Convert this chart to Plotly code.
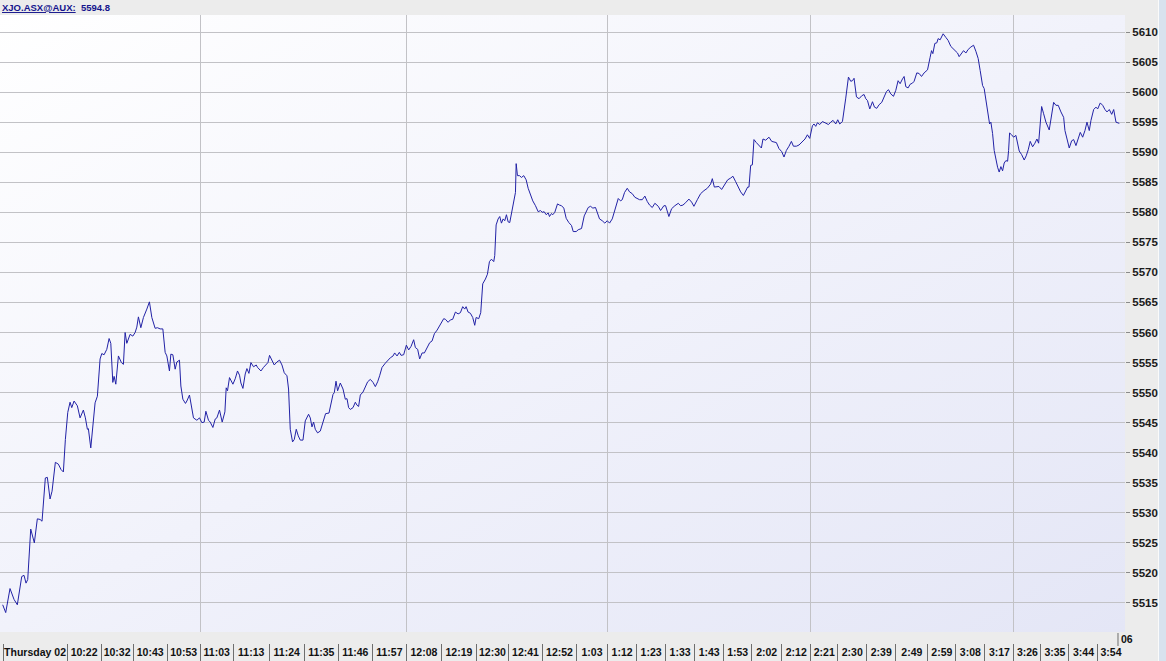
import plotly.graph_objects as go
import urllib.parse

# ---------------- data ----------------
symbol = "XJO.ASX@AUX:"
last_price = "5594.8"

# sample position along the session (index axis) and index level
bar_pos = [
    2.7, 5.7, 10, 14, 17.3, 21.7, 24, 26, 27.7, 30.7, 34.3, 37.3, 40, 42, 45.3, 47.3, 50, 52, 55.3, 58.3,
    61, 63.3, 65.3, 67.7, 70, 71.7, 74, 77.3, 80, 83.3, 85.3, 87.3, 88.3, 90.7, 95, 97.3, 100, 101.7, 104, 106.7,
    109, 110.7, 112.7, 114, 115.7, 118.3, 121.3, 123.3, 125, 126.7, 130, 132.7, 135, 136.7, 138.3, 140.7, 143.3, 145, 146.7, 149.3,
    151.7, 155, 157.3, 160, 162.7, 165, 166.7, 169.3, 170.7, 172.7, 175, 176.7, 179.3, 180.7, 182.7, 185.3, 186.7, 189.3, 191.7, 193.3,
    196.7, 199.3, 201.7, 204, 205.7, 208.3, 210, 212.7, 215, 216.7, 219.3, 222, 224.7, 226, 227.3, 229.3, 232.7, 235, 237.3, 239.3,
    240.7, 242.7, 245, 246.7, 248.7, 250.7, 253.3, 256, 257.3, 260.7, 263.3, 266, 267.7, 269.3, 271.7, 274, 276.7, 279.3, 281.7, 284,
    286.7, 288.3, 290, 292.3, 294, 296, 298, 300, 302.7, 305, 308.3, 310, 311.7, 313.3, 315, 317.3, 320, 323.3, 325.3, 328.7,
    330.7, 332.7, 334, 335.7, 337.3, 340, 342.7, 345, 346.7, 348.3, 350, 352.7, 355, 356.7, 358.3, 360, 362.7, 365, 367.3, 370,
    372.7, 375, 377.3, 379.3, 381.7, 385, 387.3, 390, 392.7, 394.3, 396.7, 399, 400.7, 403.3, 406, 408.3, 410.7, 413.3, 415, 417.3,
    419.3, 421.7, 424, 426.7, 429.3, 431.7, 434, 436.7, 440, 443.3, 445, 447.7, 450, 452.3, 455, 457.7, 460, 462.3, 464.3, 465.7,
    467.7, 470, 472.3, 474.3, 475.7, 478.3, 480.3, 482.3, 485, 487, 489, 491, 493.3, 494.3, 495.7, 497.7, 499.3, 501, 502.7, 504.3,
    506, 507.7, 509.3, 511, 513.3, 515, 515.7, 517, 519, 521, 523.3, 525.7, 527.7, 530, 532.3, 535, 537.7, 540, 541.7, 543.7,
    545.7, 547.7, 549, 551, 552.3, 554.3, 557, 559, 561, 563.3, 565.7, 568.3, 571, 572.7, 575.7, 577.7, 581, 583.7, 585.7, 587.7,
    590, 592.3, 595, 596.7, 599, 601.7, 604.3, 606.7, 609, 611.7, 615, 617.7, 620, 621.7, 624, 626.7, 629, 631.7, 634.3, 636.7,
    639, 641.7, 644.3, 646.7, 649, 651.7, 654.3, 657.7, 660, 663.3, 665, 668.3, 671, 674.3, 677.7, 680, 682.3, 685, 688.3, 691,
    693.3, 696.7, 700, 703.3, 706.7, 710, 711.7, 713.7, 716.7, 718.3, 721, 724.3, 727, 730, 732.3, 735, 737.7, 740, 742.7, 745,
    747, 748.3, 750, 751.7, 753.3, 755.7, 758.3, 760.7, 762.3, 765, 768.3, 771, 773.3, 775.7, 778.3, 781, 783.3, 785.7, 788.3, 790.7,
    792.7, 795.7, 798.3, 801.7, 804.3, 806.7, 809, 811.7, 813.3, 815, 816.7, 819, 821.7, 824.3, 827.7, 830, 832.3, 835, 837, 839,
    841.7, 845, 847.7, 850, 851.7, 853.3, 855.7, 858.3, 861, 863.3, 865, 866.7, 869, 871.7, 873.7, 876, 878.3, 881, 883.3, 885.7,
    887.7, 890, 892.7, 895, 897.3, 899.3, 901.7, 903.3, 905, 907.3, 909.3, 911.7, 913.3, 916, 918.3, 920.7, 923.3, 926.7, 929.3, 930.7,
    932, 934, 936, 937.3, 939.3, 940.7, 942.3, 945, 947.3, 950, 952.7, 955, 956.7, 958.3, 960.7, 962.7, 965, 967.3, 970, 972.7,
    975, 977.3, 979.3, 981.7, 983.3, 985, 986.7, 988.7, 990, 991.7, 993.3, 995, 996.7, 998.3, 1000, 1001.7, 1003.3, 1005, 1006.7, 1007.7,
    1008.7, 1010.7, 1012.7, 1015, 1016.7, 1018.3, 1020.7, 1023.3, 1025.3, 1027.3, 1029.3, 1031.7, 1034, 1036, 1037.7, 1039.3, 1040.7, 1042.7, 1045, 1048.3,
    1050.7, 1052.7, 1055, 1057.3, 1060, 1062.7, 1064, 1066, 1068.3, 1070.7, 1072.7, 1075, 1077.3, 1079.3, 1081.7, 1084, 1086, 1088.3, 1090, 1092.7,
    1095, 1096.7, 1099.3, 1101.7, 1104, 1106, 1108.3, 1110.7, 1112.7, 1115, 1118.3,
]
price = [
    5514.7, 5513.4, 5517.4, 5515.6, 5514.7, 5519.4, 5519.6, 5518.3, 5518.9, 5527.3, 5525.0, 5529.0, 5528.9, 5528.6, 5535.8, 5535.9, 5532.3, 5533.6, 5538.4, 5538.1,
    5537.2, 5536.8, 5542.2, 5546.7, 5548.4, 5547.5, 5548.6, 5547.8, 5545.8, 5547.1, 5545.8, 5543.9, 5544.0, 5540.8, 5548.3, 5549.4, 5555.6, 5556.5, 5556.3, 5557.2,
    5559.0, 5558.2, 5551.7, 5552.7, 5551.4, 5556.1, 5555.0, 5554.7, 5560.0, 5558.2, 5559.7, 5559.4, 5560.0, 5560.9, 5562.6, 5560.8, 5562.5, 5563.4, 5563.9, 5565.1,
    5562.5, 5560.7, 5560.8, 5560.6, 5560.6, 5556.7, 5556.1, 5553.6, 5556.4, 5556.3, 5553.9, 5555.1, 5555.4, 5551.1, 5548.9, 5548.2, 5548.6, 5549.6, 5547.0, 5545.8,
    5545.4, 5545.8, 5545.0, 5545.1, 5546.9, 5545.4, 5545.1, 5544.2, 5545.6, 5545.8, 5547.1, 5545.1, 5546.8, 5550.8, 5550.3, 5552.5, 5551.4, 5552.3, 5553.6, 5552.9,
    5551.6, 5550.7, 5553.1, 5554.0, 5553.2, 5555.0, 5554.3, 5554.6, 5554.2, 5553.6, 5554.2, 5554.8, 5555.0, 5556.2, 5555.3, 5554.6, 5555.1, 5555.4, 5554.6, 5553.3,
    5552.8, 5550.6, 5543.9, 5541.8, 5542.2, 5543.9, 5542.8, 5542.1, 5542.1, 5545.3, 5546.4, 5545.8, 5544.3, 5545.1, 5543.9, 5543.3, 5543.6, 5545.6, 5546.5, 5546.6,
    5548.3, 5549.7, 5550.0, 5551.9, 5550.3, 5551.6, 5550.6, 5548.9, 5549.0, 5547.5, 5547.2, 5547.5, 5548.4, 5547.9, 5547.7, 5549.6, 5550.1, 5551.1, 5551.8, 5552.2,
    5551.7, 5551.0, 5551.8, 5552.8, 5554.2, 5554.9, 5555.4, 5555.8, 5556.1, 5556.6, 5556.1, 5556.7, 5556.2, 5556.3, 5557.9, 5557.1, 5557.7, 5558.8, 5557.5, 5557.2,
    5555.6, 5556.6, 5556.6, 5557.5, 5558.3, 5558.6, 5559.8, 5560.4, 5561.4, 5562.3, 5562.2, 5561.7, 5562.1, 5562.2, 5563.4, 5563.1, 5563.3, 5564.3, 5563.9, 5564.3,
    5563.4, 5563.2, 5562.5, 5561.2, 5562.5, 5562.3, 5563.3, 5568.1, 5568.9, 5569.7, 5571.8, 5572.2, 5571.8, 5572.8, 5577.9, 5578.9, 5579.3, 5578.2, 5578.9, 5578.6,
    5579.6, 5578.4, 5578.3, 5580.0, 5581.6, 5583.3, 5588.1, 5586.1, 5586.1, 5585.8, 5586.1, 5585.4, 5584.0, 5582.8, 5581.9, 5581.1, 5580.1, 5580.3, 5580.0, 5580.1,
    5579.6, 5579.9, 5579.3, 5579.8, 5579.6, 5580.0, 5581.4, 5581.2, 5581.1, 5580.7, 5579.0, 5578.3, 5577.8, 5576.8, 5576.8, 5577.1, 5577.3, 5579.4, 5580.0, 5580.8,
    5581.0, 5580.7, 5580.8, 5580.1, 5578.9, 5578.6, 5578.2, 5578.6, 5578.2, 5578.9, 5580.7, 5582.3, 5581.9, 5582.1, 5583.3, 5584.0, 5583.4, 5583.1, 5582.5, 5582.3,
    5582.1, 5582.1, 5582.7, 5581.8, 5581.2, 5580.8, 5581.5, 5581.0, 5580.3, 5581.1, 5581.1, 5579.3, 5580.6, 5581.1, 5581.5, 5581.1, 5581.2, 5581.6, 5582.2, 5581.7,
    5581.0, 5582.1, 5583.1, 5583.6, 5584.0, 5584.7, 5585.6, 5584.2, 5584.2, 5584.3, 5583.8, 5584.7, 5585.4, 5585.7, 5586.0, 5585.1, 5584.2, 5583.4, 5582.8, 5583.6,
    5584.2, 5584.2, 5587.8, 5587.9, 5592.1, 5591.6, 5591.1, 5590.7, 5592.2, 5592.0, 5592.5, 5591.8, 5591.7, 5591.6, 5590.6, 5590.1, 5589.2, 5590.3, 5591.0, 5591.8,
    5591.0, 5591.0, 5591.2, 5591.7, 5592.2, 5592.9, 5592.3, 5594.4, 5594.7, 5594.3, 5594.9, 5594.6, 5595.1, 5594.9, 5594.6, 5595.0, 5595.3, 5594.7, 5595.4, 5594.7,
    5595.1, 5599.0, 5602.5, 5601.8, 5601.9, 5602.3, 5599.2, 5598.9, 5599.4, 5599.6, 5598.9, 5598.6, 5597.2, 5598.4, 5597.5, 5597.3, 5597.9, 5598.3, 5599.3, 5600.1,
    5600.4, 5599.7, 5599.3, 5600.3, 5601.9, 5601.4, 5602.2, 5602.6, 5600.9, 5600.7, 5601.3, 5601.5, 5601.8, 5603.2, 5603.1, 5602.6, 5603.2, 5603.7, 5605.8, 5606.9,
    5606.4, 5608.1, 5608.2, 5608.9, 5608.7, 5609.2, 5609.7, 5609.1, 5608.6, 5607.6, 5607.1, 5606.8, 5606.5, 5605.9, 5606.4, 5606.9, 5606.5, 5607.1, 5607.5, 5607.8,
    5606.8, 5605.6, 5603.6, 5601.1, 5600.6, 5598.6, 5597.2, 5594.7, 5595.0, 5593.1, 5590.3, 5588.5, 5587.5, 5586.7, 5587.6, 5586.9, 5588.2, 5588.6, 5588.5, 5590.3,
    5593.2, 5592.9, 5592.5, 5592.8, 5591.5, 5590.2, 5589.6, 5588.7, 5589.4, 5590.4, 5591.8, 5590.9, 5591.5, 5592.2, 5591.5, 5595.3, 5597.6, 5596.4, 5595.0, 5593.7,
    5595.9, 5598.3, 5597.8, 5597.8, 5596.7, 5595.8, 5593.6, 5592.2, 5590.7, 5591.9, 5592.1, 5591.1, 5592.5, 5593.3, 5592.5, 5593.6, 5595.0, 5593.6, 5595.3, 5597.1,
    5597.5, 5597.2, 5598.2, 5597.8, 5597.1, 5596.7, 5597.1, 5596.3, 5597.1, 5595.0, 5594.8,
]

# time-label cells on the bottom strip (left edge of each cell on the index axis)
label_pos = [3, 67, 101, 133, 167, 200, 233, 269, 304, 338, 372, 406, 441, 476, 508, 542, 576, 607,
             636, 665, 694, 723, 751, 781, 810, 837, 866, 895, 927, 955, 984, 1013, 1040, 1068, 1097]
label_text = ["Thursday 02", "10:22", "10:32", "10:43", "10:53", "11:03", "11:13", "11:24", "11:35",
              "11:46", "11:57", "12:08", "12:19", "12:30", "12:41", "12:52", "1:03", "1:12", "1:23",
              "1:33", "1:43", "1:53", "2:02", "2:12", "2:21", "2:30", "2:39", "2:49", "2:59", "3:08",
              "3:17", "3:26", "3:35", "3:44", "3:54"]
label_end = 1123
grid_pos = [200, 406, 607, 810, 1013]
next_day_pos = 1117
next_day_text = "06"

y_ticks = list(range(5515, 5611, 5))

# ---------------- layout constants ----------------
W, H = 1166, 661
M_L, M_R, M_T, M_B = 0, 41, 15, 0
plot_bottom_px = 632
paper_h = H - M_T - M_B
paper_w = W - M_L - M_R
y_dom0 = (H - plot_bottom_px) / paper_h
x_range = [0, 1124]
y_range = [5510.17, 5612.83]

cell_edges = label_pos + [label_end]
label_mid = [(cell_edges[i] + cell_edges[i + 1]) / 2 for i in range(len(label_pos))]

grad_svg = (
    '<svg xmlns="http://www.w3.org/2000/svg" width="200" height="100" viewBox="0 0 200 100" '
    'preserveAspectRatio="none"><defs><linearGradient id="g" x1="0" y1="0" x2="1" y2="1">'
    '<stop offset="0" stop-color="#ffffff"/><stop offset="0.5" stop-color="#f1f2fb"/>'
    '<stop offset="1" stop-color="#e4e6f6"/></linearGradient></defs>'
    '<rect width="200" height="100" fill="url(#g)"/></svg>'
)
grad_src = "data:image/svg+xml;charset=utf-8," + urllib.parse.quote(grad_svg)

fig = go.Figure()
fig.add_trace(go.Scatter(
    x=bar_pos, y=price, mode="lines",
    line=dict(color="#2222a6", width=1),
    showlegend=False, hoverinfo="skip",
))
for ax in ("x2", "x3"):
    fig.add_trace(go.Scatter(x=[], y=[], xaxis=ax, yaxis="y", showlegend=False, hoverinfo="skip"))

lab_font = dict(family="Liberation Sans, Arial, sans-serif", size=10.5, color="#111111", weight="bold")

fig.update_layout(
    width=W, height=H,
    margin=dict(l=M_L, r=M_R, t=M_T, b=M_B, pad=0),
    paper_bgcolor="#ececec",
    plot_bgcolor="#f2f3fb",
    showlegend=False,
    xaxis=dict(
        range=x_range, domain=[0, 1], anchor="y",
        tickvals=grid_pos, showticklabels=False, ticks="",
        showgrid=True, gridcolor="#c2c2c6", gridwidth=1,
        zeroline=False, showline=False, fixedrange=True,
    ),
    xaxis2=dict(
        range=x_range, overlaying="x", anchor="free", position=0,
        tickvals=label_pos, showticklabels=False,
        ticks="inside", ticklen=17, tickwidth=1, tickcolor="#6e6e6e",
        showgrid=False, zeroline=False, showline=False, fixedrange=True,
    ),
    xaxis3=dict(
        range=x_range, overlaying="x", anchor="free", position=0,
        tickvals=label_mid, ticktext=label_text, ticks="",
        ticklabelposition="inside", ticklabelstandoff=0, tickfont=lab_font,
        showgrid=False, zeroline=False, showline=False, fixedrange=True,
    ),
    yaxis=dict(
        range=y_range, domain=[y_dom0, 1], side="right", anchor="x",
        tickvals=y_ticks, ticks="outside", ticklen=4, tickcolor="#8a8a8a",
        tickfont=dict(family="Liberation Sans, Arial, sans-serif", size=11.5, color="#1a1a1a", weight="bold"),
        showgrid=True, gridcolor="#c2c2c6", gridwidth=1,
        zeroline=False, showline=False, fixedrange=True,
    ),
    images=[dict(
        source=grad_src, xref="x domain", yref="y domain",
        x=0, y=1, sizex=1, sizey=1, xanchor="left", yanchor="top",
        sizing="stretch", layer="below",
    )],
    annotations=[
        dict(
            text=f"<u>{symbol}</u>&nbsp;&nbsp;{last_price}",
            xref="paper", yref="paper", x=0, y=1, xanchor="left", yanchor="bottom",
            showarrow=False, xshift=0, yshift=0,
            font=dict(family="Liberation Sans, Arial, sans-serif", size=9.5, color="#14148c", weight="bold"),
        ),
        dict(
            text=next_day_text, xref="x", yref="paper", x=next_day_pos, y=(H - 639) / paper_h,
            xanchor="left", yanchor="middle", showarrow=False, xshift=1,
            font=lab_font,
        ),
    ],
    shapes=[
        dict(type="line", xref="x", yref="paper", x0=next_day_pos, x1=next_day_pos,
             y0=(H - 646) / paper_h, y1=(H - 633) / paper_h,
             line=dict(color="#6e6e6e", width=1)),
        dict(type="rect", xref="paper", yref="paper",
             x0=1159 / paper_w, x1=W / paper_w, y0=0, y1=H / paper_h,
             fillcolor="#d8e2ee", line=dict(width=0), layer="below"),
        dict(type="line", xref="paper", yref="paper",
             x0=1158.5 / paper_w, x1=1158.5 / paper_w, y0=0, y1=H / paper_h,
             line=dict(color="#fafafa", width=1), layer="below"),
    ],
)

fig.write_html(
    "out.html",
    config={"displayModeBar": False},
    post_script="document.body.style.margin='0';document.body.style.overflow='hidden';",
)
